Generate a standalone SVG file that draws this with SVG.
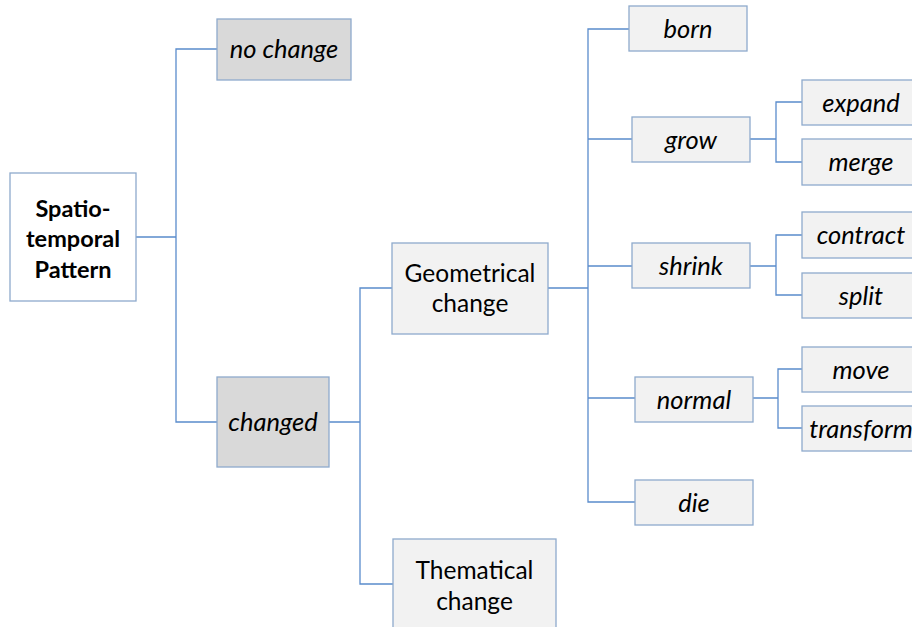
<svg xmlns="http://www.w3.org/2000/svg" width="912" height="627" viewBox="0 0 912 627">
<style>
.box{stroke:#8eaacc;stroke-width:1.3}
.w{fill:#ffffff}
.g{fill:#d9d9d9}
.l{fill:#f2f2f2}
text{font-family:Lato,"Open Sans",sans-serif;font-size:24.5px;fill:#000;text-anchor:middle}
.i{font-style:italic;font-size:25.5px}
.b{font-weight:bold;font-size:23.5px}
#connectors path{fill:none;stroke:#5a8ccc;stroke-width:1.3}
</style>
<rect width="912" height="627" fill="#ffffff"/>
<g id="connectors">
<path d="M136,237H176M218,49H176V422H217"/>
<path d="M329,422H360M393,288H360V584H393"/>
<path d="M548,288H588M629,29H588V502H635M588,139H632M588,266H632M588,398H635"/>
<path d="M750,139H776M802,102H776V162H802"/>
<path d="M750,266H776M802,235H776V295H802"/>
<path d="M753,398H778M802,369H778V428H802"/>
</g>
<g id="root"><rect class="box w" x="10" y="173" width="126" height="128"/><text class="b" x="73" y="216.5">Spatio-</text><text class="b" x="73" y="247">temporal</text><text class="b" x="73" y="277.5">Pattern</text></g>
<g id="nochange"><rect class="box g" x="217" y="19" width="134" height="61"/><text class="i" x="284" y="58">no change</text></g>
<g id="changed"><rect class="box g" x="217" y="377" width="112" height="90"/><text class="i" x="273" y="431">changed</text></g>
<g id="geometrical"><rect class="box l" x="392" y="243" width="156" height="91"/><text x="470" y="282">Geometrical</text><text x="470" y="312">change</text></g>
<g id="thematical"><rect class="box l" x="393" y="539" width="163" height="100"/><text x="474.5" y="578.5">Thematical</text><text x="474.5" y="609.5">change</text></g>
<g id="born"><rect class="box l" x="629" y="6" width="118" height="45"/><text class="i" x="688" y="37.5">born</text></g>
<g id="grow"><rect class="box l" x="632" y="117" width="118" height="45"/><text class="i" x="691" y="148.5">grow</text></g>
<g id="shrink"><rect class="box l" x="632" y="243" width="118" height="45"/><text class="i" x="691" y="274.5">shrink</text></g>
<g id="normal"><rect class="box l" x="635" y="377" width="118" height="45"/><text class="i" x="694" y="408.5">normal</text></g>
<g id="die"><rect class="box l" x="635" y="480" width="118" height="45"/><text class="i" x="694" y="511.5">die</text></g>
<g id="expand"><rect class="box l" x="802" y="80" width="118" height="45"/><text class="i" x="861" y="111.5">expand</text></g>
<g id="merge"><rect class="box l" x="802" y="139" width="118" height="46"/><text class="i" x="861" y="170.5">merge</text></g>
<g id="contract"><rect class="box l" x="802" y="212" width="118" height="46"/><text class="i" x="861" y="243.5">contract</text></g>
<g id="split"><rect class="box l" x="802" y="273" width="118" height="45"/><text class="i" x="861" y="304.5">split</text></g>
<g id="move"><rect class="box l" x="802" y="347" width="118" height="45"/><text class="i" x="861" y="378.5">move</text></g>
<g id="transform"><rect class="box l" x="802" y="406" width="118" height="45"/><text class="i" x="861" y="437.5">transform</text></g>
</svg>
